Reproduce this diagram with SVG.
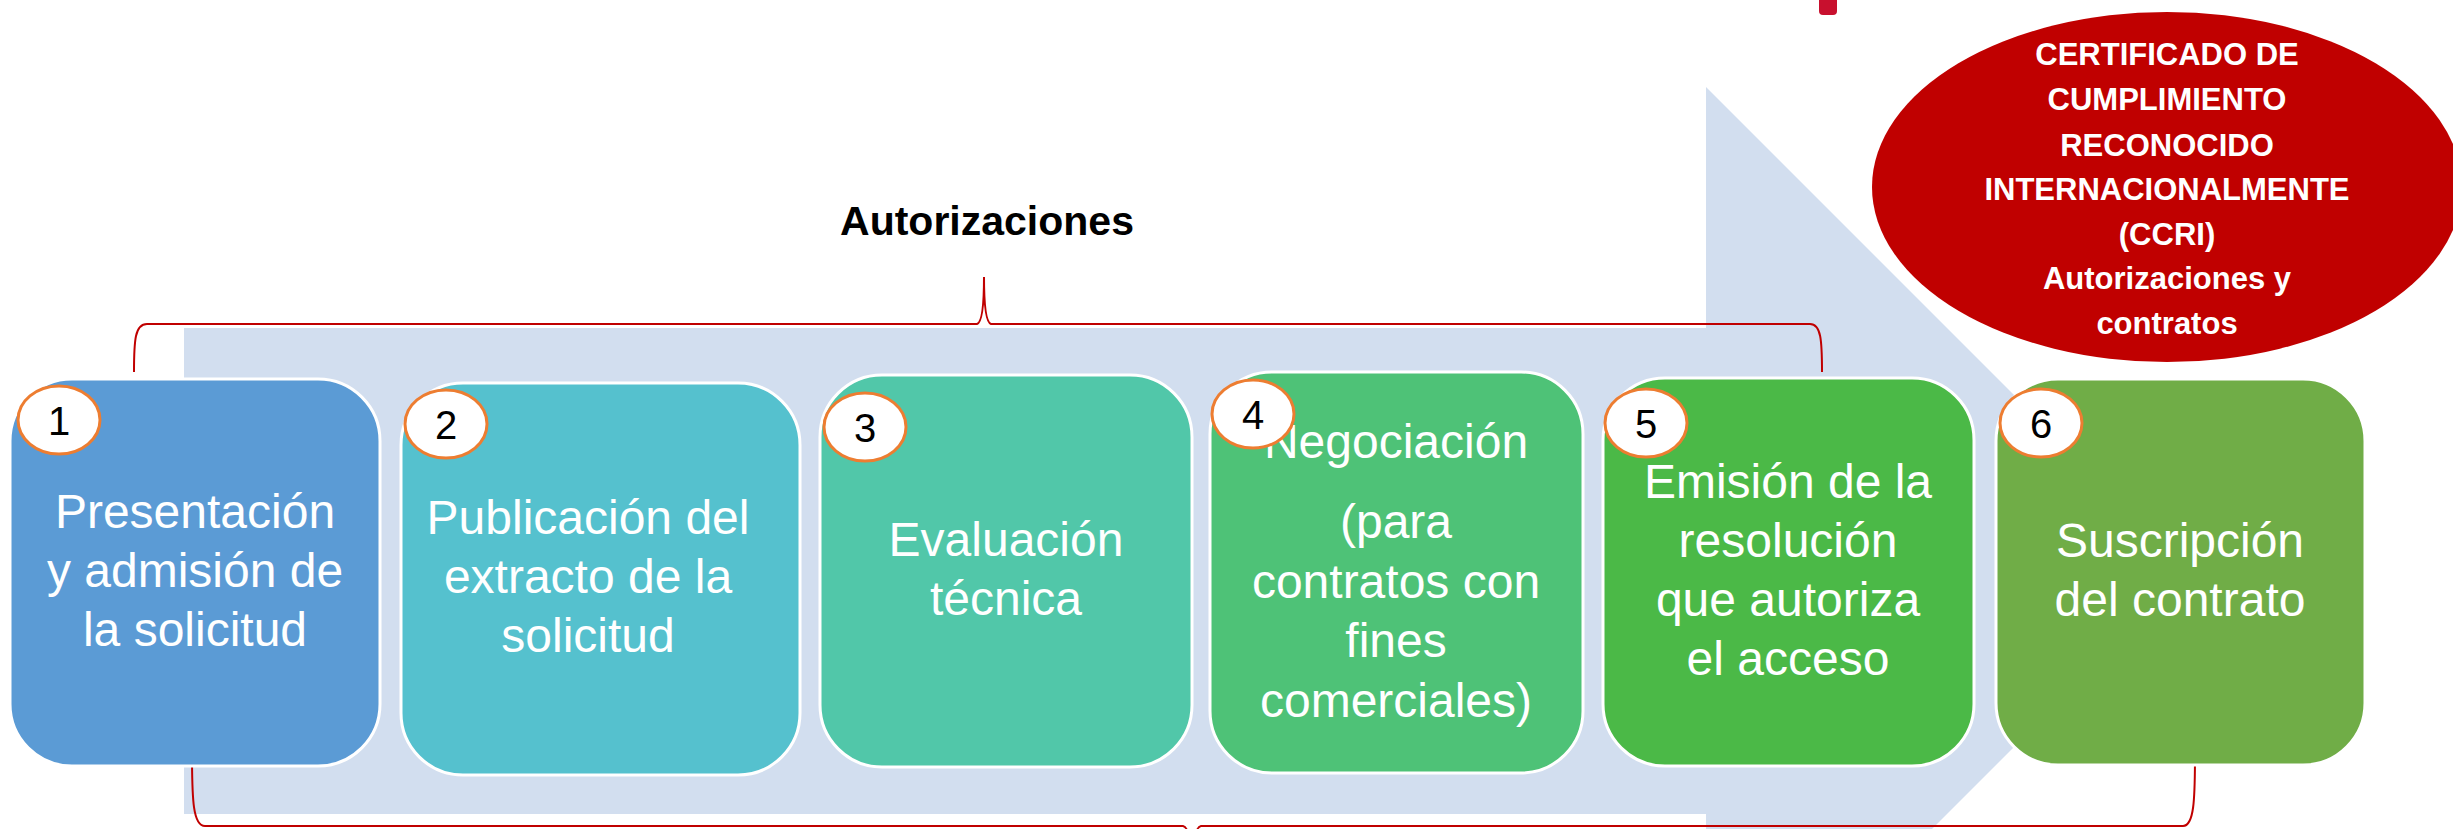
<svg xmlns="http://www.w3.org/2000/svg" width="2453" height="829" viewBox="0 0 2453 829">
  <style>
    .box { stroke: #FFFFFF; stroke-width: 3; }
    .lbl { font-family: "Liberation Sans", Arial, sans-serif; font-size: 48px; fill: #FFFFFF; text-anchor: middle; }
    .num-c { fill: #FFFFFF; stroke: #ED7D31; stroke-width: 3; }
    .num { font-family: "Liberation Sans", Arial, sans-serif; font-size: 40px; fill: #000000; text-anchor: middle; }
    .brace { fill: none; stroke: #C00000; stroke-width: 2; }
    .ccri { font-family: "Liberation Sans", Arial, sans-serif; font-size: 31px; font-weight: bold; fill: #FFFFFF; text-anchor: middle; }
    .title { font-family: "Liberation Sans", Arial, sans-serif; font-size: 41px; font-weight: bold; fill: #000000; text-anchor: middle; }
  </style>
  <rect x="0" y="0" width="2453" height="829" fill="#FFFFFF"/>

  <!-- background process arrow -->
  <polygon id="bg-arrow" points="184,328 1706,328 1706,87 2190,571 1706,1055 1706,814 184,814" fill="#D2DEEF"/>

  <!-- small red mark at top -->
  <path id="top-mark" d="M1819,-5 L1837,-5 L1837,11 Q1837,15 1833,15 L1823,15 Q1819,15 1819,11 Z" fill="#C8102E"/>

  <!-- connectors (braces) -->
  <g id="connectors">
    <path class="brace" d="M134,372 C134,340 135,324 147,324 L977,324 Q984,322 984,277 Q984,322 991,324 L1810,324 C1821,324 1822,340 1822,372"/>
    <path class="brace" d="M192,753 C192,800 193,826 205,826 L1183,826 Q1192,828 1192,873 Q1192,828 1201,826 L2183,826 C2194,826 2195,800 2195,754"/>
  </g>

  <g id="title-autorizaciones">
    <text class="title" x="987" y="235">Autorizaciones</text>
  </g>

  <g id="ccri">
    <ellipse cx="2167" cy="187" rx="295" ry="175" fill="#C00000"/>
    <text class="ccri" x="2167" y="65">CERTIFICADO DE</text>
    <text class="ccri" x="2167" y="110">CUMPLIMIENTO</text>
    <text class="ccri" x="2167" y="156">RECONOCIDO</text>
    <text class="ccri" x="2167" y="200">INTERNACIONALMENTE</text>
    <text class="ccri" x="2167" y="245">(CCRI)</text>
    <text class="ccri" x="2167" y="289">Autorizaciones y</text>
    <text class="ccri" x="2167" y="334">contratos</text>
  </g>

  <g id="step1">
    <rect class="box" x="10" y="379" width="370" height="387" rx="62" ry="62" fill="#5B9BD5"/>
    <text class="lbl" x="195" y="528">Presentación</text>
    <text class="lbl" x="195" y="587">y admisión de</text>
    <text class="lbl" x="195" y="646">la solicitud</text>
    <ellipse class="num-c" cx="59" cy="420" rx="41" ry="34"/>
    <text class="num" x="59" y="435">1</text>
  </g>

  <g id="step2">
    <rect class="box" x="401" y="383" width="399" height="392" rx="62" ry="62" fill="#55C1CE"/>
    <text class="lbl" x="588" y="534">Publicación del</text>
    <text class="lbl" x="588" y="593">extracto de la</text>
    <text class="lbl" x="588" y="652">solicitud</text>
    <ellipse class="num-c" cx="446" cy="424" rx="41" ry="34"/>
    <text class="num" x="446" y="439">2</text>
  </g>

  <g id="step3">
    <rect class="box" x="820" y="375" width="372" height="392" rx="62" ry="62" fill="#51C7A9"/>
    <text class="lbl" x="1006" y="556">Evaluación</text>
    <text class="lbl" x="1006" y="615">técnica</text>
    <ellipse class="num-c" cx="865" cy="427" rx="41" ry="34"/>
    <text class="num" x="865" y="442">3</text>
  </g>

  <g id="step4">
    <rect class="box" x="1210" y="372" width="373" height="401" rx="62" ry="62" fill="#4EC277"/>
    <text class="lbl" x="1396" y="458">Negociación</text>
    <text class="lbl" x="1396" y="538">(para</text>
    <text class="lbl" x="1396" y="598">contratos con</text>
    <text class="lbl" x="1396" y="657">fines</text>
    <text class="lbl" x="1396" y="717">comerciales)</text>
    <ellipse class="num-c" cx="1253" cy="414" rx="41" ry="34"/>
    <text class="num" x="1253" y="429">4</text>
  </g>

  <g id="step5">
    <rect class="box" x="1603" y="378" width="371" height="388" rx="62" ry="62" fill="#4BB947"/>
    <text class="lbl" x="1788" y="498">Emisión de la</text>
    <text class="lbl" x="1788" y="557">resolución</text>
    <text class="lbl" x="1788" y="616">que autoriza</text>
    <text class="lbl" x="1788" y="675">el acceso</text>
    <ellipse class="num-c" cx="1646" cy="423" rx="41" ry="34"/>
    <text class="num" x="1646" y="438">5</text>
  </g>

  <g id="step6">
    <rect class="box" x="1996" y="379" width="369" height="386" rx="62" ry="62" fill="#70AD47"/>
    <text class="lbl" x="2180" y="557">Suscripción</text>
    <text class="lbl" x="2180" y="616">del contrato</text>
    <ellipse class="num-c" cx="2041" cy="423" rx="41" ry="34"/>
    <text class="num" x="2041" y="438">6</text>
  </g>
</svg>
